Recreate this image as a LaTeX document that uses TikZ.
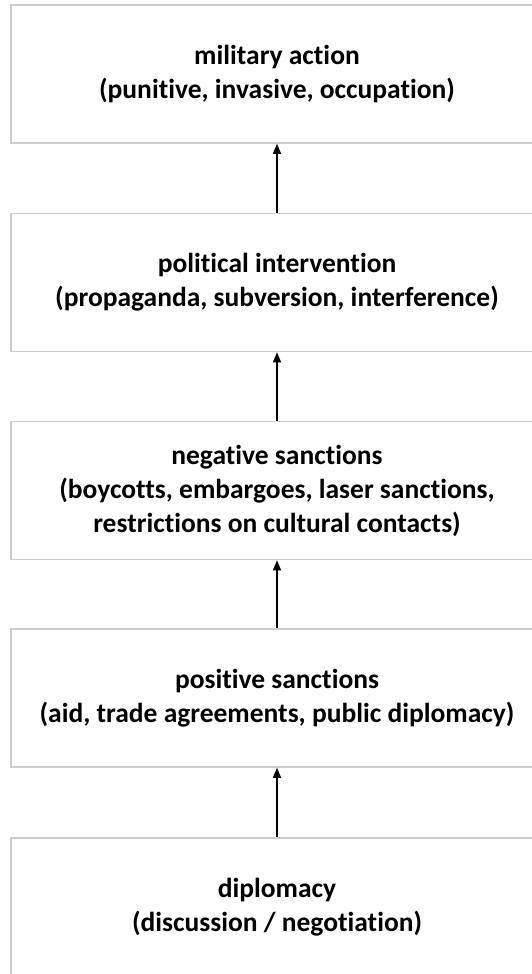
\documentclass[tikz,border=0pt]{standalone}
\usepackage{fontspec}
\setmainfont{Carlito}[Ligatures=NoCommon]
\usetikzlibrary{arrows.meta}
\begin{document}
\begin{tikzpicture}[x=1pt,y=-1pt,
  levelbox/.style={draw=black!20, line width=1.6pt, fill=white, minimum width=532pt, minimum height=138pt, inner sep=0pt, align=center, font=\bfseries\fontsize{27.5}{34}\selectfont},
  uparrow/.style={-{Triangle[width=8pt,length=10pt]}, line width=1.3pt, black}]
\useasboundingbox (0,0) rectangle (532,974);
\clip (0,0) rectangle (532,974);
\node[levelbox] (mil) at (277,74) {military action\\(punitive, invasive, occupation)};
\node[levelbox] (pol) at (277,282.5) {political intervention\\(propaganda, subversion, interference)};
\node[levelbox] (neg) at (277,490.5) {negative sanctions\\(boycotts, embargoes, laser sanctions,\\restrictions on cultural contacts)};
\node[levelbox] (pos) at (277,698) {positive sanctions\\(aid, trade agreements, public diplomacy)};
\node[levelbox] (dip) at (277,907) {diplomacy\\(discussion / negotiation)};
\draw[uparrow] (pol.north) -- (mil.south);
\draw[uparrow] (neg.north) -- (pol.south);
\draw[uparrow] (pos.north) -- (neg.south);
\draw[uparrow] (dip.north) -- (pos.south);
\end{tikzpicture}
\end{document}
